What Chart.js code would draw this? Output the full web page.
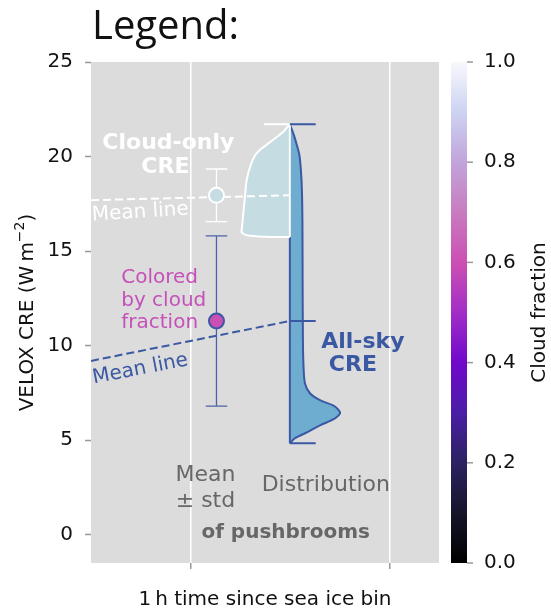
<!DOCTYPE html>
<html>
<head>
<meta charset="utf-8">
<script src="https://cdn.jsdelivr.net/npm/chart.js@4.4.1/dist/chart.umd.min.js"></script>
<style>
  html, body { margin: 0; padding: 0; background: #fff; }
  canvas { display: block; }
</style>
</head>
<body>
<canvas id="chart" width="551" height="613"></canvas>
<script>
// Axis ticks
const yTicks = [0, 5, 10, 15, 20, 25];
const xTicks = [0, 1];
const cfTicks = [0, 0.2, 0.4, 0.6, 0.8, 1.0];

// All-sky CRE distribution (value, relative density)
const allSkyCre = [21.71, 21.13, 20.60, 20.07, 19.28, 18.22, 16.63, 13.46, 10.28, 9.06, 8.01, 7.48, 7.11, 6.84, 6.63, 6.42, 6.15, 5.78, 5.41, 5.10, 4.83];
const allSkyDensity = [0, 0.08, 0.14, 0.19, 0.22, 0.24, 0.25, 0.254, 0.26, 0.27, 0.30, 0.40, 0.60, 0.86, 0.96, 1.00, 0.90, 0.60, 0.34, 0.10, 0];

// Cloud-only CRE distribution
const cloudCre = [21.71, 21.24, 20.71, 20.18, 19.55, 18.75, 17.69, 16.63, 16.10, 15.99, 15.84, 15.76, 15.74];
const cloudDensity = [0, 0.16, 0.42, 0.66, 0.78, 0.86, 0.90, 0.94, 0.96, 0.96, 0.86, 0.50, 0];

// Mean +- std
const allSkyMean = 11.3;
const allSkyStd = 4.5;
const cloudMean = 17.95;
const cloudStd = 1.39;
const allSkyCloudFraction = 0.6;

// Mean lines (previous bin -> this bin)
const meanLineX = [-0.5, 0.5];
const allSkyMeanLine = [9.19, 11.3];
const cloudMeanLine = [17.69, 17.95];

// Cloud fraction colormap
const cmapStops = [
    [0.0, '#000000'], [0.1, '#15152b'], [0.2, '#2b2260'], [0.3, '#4a1ea6'],
    [0.4, '#7008cc'], [0.5, '#a22ec6'], [0.6, '#cc4fb4'], [0.7, '#c87cbe'],
    [0.8, '#c2a4da'], [0.9, '#ccd3f2'], [1.0, '#f8f8fc']
];

const MEAN_X = 0.131;
const VIOLIN_X = 0.5;
const VIOLIN_W = 0.2525;
const CAP_W = 0.054;
const VCAP_W = 0.13;

const BLUE = '#3b58a3';
const ALL_FILL = '#6eadcf';
const CLOUD_FILL = '#c4dce2';
const MAGENTA = '#c650b9';
const GREY = '#676767';

function cmapColor(v) {
    for (let i = 1; i < cmapStops.length; i++) {
        if (v <= cmapStops[i][0]) return cmapStops[i][1];
    }
    return cmapStops[cmapStops.length - 1][1];
}

function errorBar(x, mean, std) {
    const lo = mean - std, hi = mean + std;
    return [
        {x: x - CAP_W, y: hi}, {x: x + CAP_W, y: hi}, {x: x, y: null},
        {x: x, y: hi}, {x: x, y: lo}, {x: x, y: null},
        {x: x - CAP_W, y: lo}, {x: x + CAP_W, y: lo}
    ];
}

const allSkyCurve = allSkyCre.map((v, i) => ({x: VIOLIN_X + allSkyDensity[i] * VIOLIN_W, y: v}));
const cloudCurve = cloudCre.map((v, i) => ({x: VIOLIN_X - cloudDensity[i] * VIOLIN_W, y: v}));
const allSkyMax = allSkyCre[0], allSkyMin = allSkyCre[allSkyCre.length - 1];
const cloudMax = cloudCre[0], cloudMin = cloudCre[cloudCre.length - 1];

const line = (extra) => Object.assign({
    showLine: true, pointRadius: 0, pointHoverRadius: 0, fill: false, tension: 0
}, extra);

const datasets = [
    // markers (top)
    {data: [{x: MEAN_X, y: allSkyMean}], pointRadius: 7.5, backgroundColor: cmapColor(allSkyCloudFraction),
     borderColor: BLUE, borderWidth: 2, order: 0},
    {data: [{x: MEAN_X, y: cloudMean}], pointRadius: 7.5, backgroundColor: CLOUD_FILL,
     borderColor: '#ffffff', borderWidth: 2, order: 0},
    // error bars
    line({data: errorBar(MEAN_X, allSkyMean, allSkyStd), borderColor: '#4b63a8', borderWidth: 1.3, order: 1}),
    line({data: errorBar(MEAN_X, cloudMean, cloudStd), borderColor: '#ffffff', borderWidth: 1.3, order: 1}),
    // mean lines
    line({data: meanLineX.map((x, i) => ({x, y: allSkyMeanLine[i]})), borderColor: BLUE, borderWidth: 2,
          borderDash: [8, 4], order: 2}),
    line({data: meanLineX.map((x, i) => ({x, y: cloudMeanLine[i]})), borderColor: '#ffffff', borderWidth: 2,
          borderDash: [8, 4], order: 2}),
    // violin caps
    line({data: [
        {x: VIOLIN_X, y: allSkyMax}, {x: VIOLIN_X + VCAP_W, y: allSkyMax}, {x: VIOLIN_X, y: null},
        {x: VIOLIN_X, y: allSkyMean}, {x: VIOLIN_X + VCAP_W, y: allSkyMean}, {x: VIOLIN_X, y: null},
        {x: VIOLIN_X, y: allSkyMin}, {x: VIOLIN_X + VCAP_W, y: allSkyMin}
    ], borderColor: BLUE, borderWidth: 2, order: 3}),
    line({data: [{x: VIOLIN_X - VCAP_W, y: cloudMax}, {x: VIOLIN_X, y: cloudMax}],
          borderColor: '#ffffff', borderWidth: 2, order: 3}),
    // cloud-only violin
    line({data: [{x: VIOLIN_X, y: cloudMax}, {x: VIOLIN_X, y: cloudMin}], borderColor: '#ffffff', borderWidth: 2, order: 4}),
    line({data: cloudCurve, borderColor: '#ffffff', borderWidth: 2, backgroundColor: CLOUD_FILL,
          fill: 'shape', tension: 0.3, order: 5}),
    // all-sky violin
    line({data: [{x: VIOLIN_X, y: allSkyMax}, {x: VIOLIN_X, y: allSkyMin}], borderColor: BLUE, borderWidth: 2, order: 6}),
    line({data: allSkyCurve, borderColor: BLUE, borderWidth: 2, backgroundColor: ALL_FILL,
          fill: 'shape', tension: 0.3, order: 7})
];

const annotations = [
    {text: 'Cloud-only', x: -0.111, y: 20.72, color: '#ffffff', weight: 'bold', size: 22},
    {text: 'CRE', x: -0.126, y: 19.42, color: '#ffffff', weight: 'bold', size: 22},
    {text: 'Mean line', x: -0.252, y: 17.05, color: '#ffffff', size: 20, angle: -3.5},
    {text: 'Colored', x: -0.348, y: 13.56, color: MAGENTA, size: 20, align: 'left'},
    {text: 'by cloud', x: -0.348, y: 12.36, color: MAGENTA, size: 20, align: 'left'},
    {text: 'fraction', x: -0.348, y: 11.20, color: MAGENTA, size: 20, align: 'left'},
    {text: 'Mean line', x: -0.252, y: 8.75, color: BLUE, size: 20, angle: -11},
    {text: 'All-sky', x: 0.867, y: 10.19, color: BLUE, weight: 'bold', size: 22},
    {text: 'CRE', x: 0.817, y: 8.96, color: BLUE, weight: 'bold', size: 22},
    {text: 'Mean', x: 0.0756, y: 3.14, color: GREY, size: 22},
    {text: '\u00b1 std', x: 0.0756, y: 1.78, color: GREY, size: 22},
    {text: 'Distribution', x: 0.681, y: 2.61, color: GREY, size: 22},
    {text: 'of pushbrooms', x: 0.479, y: 0.085, color: GREY, weight: 'bold', size: 20}
];

const FONT = "'DejaVu Sans', sans-serif";

const legendArt = {
    id: 'legendArt',
    beforeDraw(chart) {
        const {ctx, chartArea: a} = chart;
        ctx.save();
        ctx.fillStyle = '#ffffff';
        ctx.fillRect(0, 0, chart.width, chart.height);
        ctx.fillStyle = '#dcdcdc';
        ctx.fillRect(a.left, a.top, a.right - a.left, a.bottom - a.top);
        ctx.restore();
    },
    afterDatasetsDraw(chart) {
        const {ctx} = chart;
        const xs = chart.scales.x, ys = chart.scales.y;
        ctx.save();
        annotations.forEach(t => {
            ctx.save();
            ctx.translate(xs.getPixelForValue(t.x), ys.getPixelForValue(t.y));
            if (t.angle) ctx.rotate(t.angle * Math.PI / 180);
            ctx.font = `${t.weight || 'normal'} ${t.size}px ${FONT}`;
            ctx.fillStyle = t.color;
            ctx.textAlign = t.align || 'center';
            ctx.textBaseline = 'middle';
            ctx.fillText(t.text, 0, 0);
            ctx.restore();
        });
        ctx.restore();
    },
    afterDraw(chart) {
        const {ctx, chartArea: a} = chart;
        const cf = chart.scales.cf;
        const top = cf.getPixelForValue(1), bottom = cf.getPixelForValue(0);
        const left = a.right + 12, width = 16;
        ctx.save();
        // colorbar
        const grad = ctx.createLinearGradient(0, bottom, 0, top);
        cmapStops.forEach(([v, c]) => grad.addColorStop(v, c));
        ctx.fillStyle = grad;
        ctx.fillRect(left, top, width, bottom - top);
        ctx.strokeStyle = '#999999';
        ctx.lineWidth = 1.5;
        cfTicks.forEach(v => {
            const p = cf.getPixelForValue(v);
            ctx.beginPath();
            ctx.moveTo(left + width, p);
            ctx.lineTo(left + width + 6, p);
            ctx.stroke();
        });
        // title
        ctx.fillStyle = '#111111';
        ctx.font = "40px 'Open Sans', sans-serif";
        ctx.textAlign = 'left';
        ctx.textBaseline = 'alphabetic';
        ctx.fillText('Legend:', 92, 39);
        // x title
        ctx.font = `20px ${FONT}`;
        ctx.textAlign = 'center';
        ctx.fillText('1\u2009h time since sea ice bin', (a.left + a.right) / 2, 605);
        // colorbar title
        ctx.save();
        ctx.translate(545, (a.top + a.bottom) / 2);
        ctx.rotate(-Math.PI / 2);
        ctx.fillText('Cloud fraction', 0, 0);
        ctx.restore();
        // y title with superscript
        ctx.save();
        ctx.translate(33, (a.top + a.bottom) / 2);
        ctx.rotate(-Math.PI / 2);
        const main = 'VELOX CRE (W\u2009m', sup = '\u22122', close = ')';
        ctx.font = `20px ${FONT}`;
        const w1 = ctx.measureText(main).width, w3 = ctx.measureText(close).width;
        ctx.font = `14px ${FONT}`;
        const w2 = ctx.measureText(sup).width;
        let x = -(w1 + w2 + w3) / 2;
        ctx.textAlign = 'left';
        ctx.font = `20px ${FONT}`;
        ctx.fillText(main, x, 0);
        x += w1;
        ctx.font = `14px ${FONT}`;
        ctx.fillText(sup, x, -9);
        x += w2;
        ctx.font = `20px ${FONT}`;
        ctx.fillText(close, x, 0);
        ctx.restore();
        ctx.restore();
    }
};

Chart.defaults.font.family = FONT;
Chart.defaults.color = '#111111';

new Chart(document.getElementById('chart'), {
    type: 'scatter',
    data: {datasets},
    options: {
        responsive: false,
        animation: false,
        events: [],
        layout: {padding: {top: 62, left: 0, right: 0, bottom: 0}},
        plugins: {legend: {display: false}, tooltip: {enabled: false}},
        scales: {
            x: {
                type: 'linear', min: -0.5, max: 1.25,
                afterBuildTicks: s => { s.ticks = xTicks.map(v => ({value: v})); },
                afterFit: s => { s.height = 50; },
                ticks: {callback: () => ''},
                grid: {color: '#ffffff', lineWidth: 1.5, tickColor: '#999999', tickLength: 6, tickWidth: 1.5},
                border: {display: false}
            },
            y: {
                type: 'linear', min: -1.5, max: 25,
                afterBuildTicks: s => { s.ticks = yTicks.map(v => ({value: v})); },
                afterFit: s => { s.width = 91; s.paddingTop = 0; s.paddingBottom = 0; },
                ticks: {font: {size: 20}, padding: 12, color: '#111111'},
                grid: {drawOnChartArea: false, tickColor: '#999999', tickLength: 6, tickWidth: 1.5},
                border: {display: false}
            },
            cf: {
                type: 'linear', position: 'right', min: 0, max: 1,
                afterBuildTicks: s => { s.ticks = cfTicks.map(v => ({value: v})); },
                afterFit: s => { s.width = 112; s.paddingTop = 0; s.paddingBottom = 0; },
                ticks: {font: {size: 20}, padding: 45, color: '#111111', callback: v => v.toFixed(1)},
                grid: {display: false, drawTicks: false},
                border: {display: false}
            }
        }
    },
    plugins: [legendArt]
});
</script>
</body>
</html>
